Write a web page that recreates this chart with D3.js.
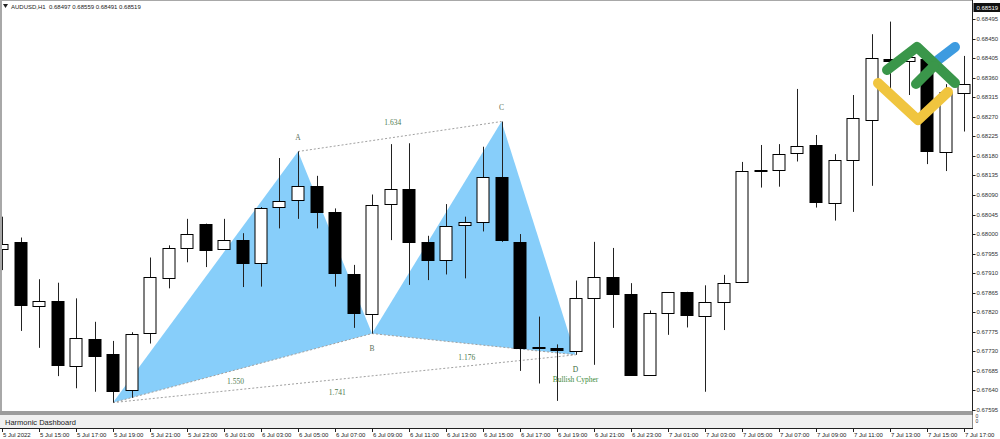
<!DOCTYPE html>
<html>
<head>
<meta charset="utf-8">
<script src="https://cdn.jsdelivr.net/npm/d3@7"></script>
<style>
  body { margin: 0; background: #fff; }
  svg { display: block; font-family: "Liberation Sans", Arial, sans-serif; }
</style>
</head>
<body>
<div id="chart"></div>
<script>
// AUDUSD H1 candles, 5 Jul 13:00 -> 7 Jul 17:00
var opens  = [0.67966,0.67981,0.67834,0.67845,0.67696,0.67758,0.67724,0.67641,0.67770,0.67900,
              0.67967,0.68024,0.67966,0.67986,0.67933,0.68061,0.68077,0.68110,0.68051,0.67908,
              0.67818,0.68068,0.68103,0.67982,0.67940,0.68019,0.68027,0.68131,0.67982,0.67738,
              0.67737,0.67730,0.67852,0.67900,0.67861,0.67676,0.67817,0.67866,0.67811,0.67843,
              0.67889,0.68145,0.68147,0.68187,0.68205,0.68073,0.68170,0.68262,0.68402,0.68398,
              0.68402,0.68191,0.68325];
var highs  = [0.68040,0.67992,0.67896,0.67888,0.67852,0.67798,0.67754,0.67774,0.67946,0.67974,
              0.68035,0.68024,0.68035,0.68002,0.68062,0.68175,0.68190,0.68134,0.68059,0.67929,
              0.68091,0.68207,0.68209,0.67996,0.68069,0.68040,0.68201,0.68259,0.68000,0.67810,
              0.67746,0.67893,0.67982,0.67968,0.67887,0.67824,0.67866,0.67867,0.67882,0.67906,
              0.68166,0.68205,0.68207,0.68334,0.68228,0.68184,0.68320,0.68460,0.68489,0.68420,
              0.68410,0.68345,0.68410];
var lows   = [0.67917,0.67777,0.67738,0.67673,0.67645,0.67637,0.67612,0.67623,0.67748,0.67875,
              0.67935,0.67924,0.67965,0.67878,0.67879,0.68013,0.68035,0.68013,0.67879,0.67784,
              0.67771,0.67986,0.67883,0.67894,0.67907,0.67898,0.68006,0.67982,0.67685,0.67656,
              0.67616,0.67722,0.67699,0.67784,0.67674,0.67674,0.67768,0.67785,0.67637,0.67779,
              0.67889,0.68107,0.68109,0.68167,0.68061,0.68031,0.68051,0.68111,0.68330,0.68320,
              0.68161,0.68145,0.68236];
var closes = [0.67977,0.67835,0.67846,0.67697,0.67761,0.67718,0.67639,0.67770,0.67900,0.67968,
              0.67999,0.67965,0.67986,0.67933,0.68059,0.68075,0.68110,0.68050,0.67910,0.67818,
              0.68068,0.68103,0.67982,0.67940,0.68019,0.68027,0.68131,0.67985,0.67738,0.67740,
              0.67733,0.67852,0.67900,0.67860,0.67674,0.67818,0.67866,0.67813,0.67843,0.67887,
              0.68145,0.68147,0.68184,0.68203,0.68073,0.68171,0.68267,0.68405,0.68397,0.68408,
              0.68191,0.68328,0.68345];

var timeLabels = ['5 Jul 2022','5 Jul 15:00','5 Jul 17:00','5 Jul 19:00','5 Jul 21:00','5 Jul 23:00',
                  '6 Jul 01:00','6 Jul 03:00','6 Jul 05:00','6 Jul 07:00','6 Jul 09:00','6 Jul 11:00',
                  '6 Jul 13:00','6 Jul 15:00','6 Jul 17:00','6 Jul 19:00','6 Jul 21:00','6 Jul 23:00',
                  '7 Jul 01:00','7 Jul 03:00','7 Jul 05:00','7 Jul 07:00','7 Jul 09:00','7 Jul 11:00',
                  '7 Jul 13:00','7 Jul 15:00','7 Jul 17:00'];
var priceTicks = [0.67595,0.67640,0.67685,0.67730,0.67775,0.67820,0.67865,0.67910,0.67955,0.68000,
                  0.68045,0.68090,0.68135,0.68180,0.68225,0.68270,0.68315,0.68360,0.68405,0.68450,0.68495];

// harmonic pattern: X A B C D
var patternNames = ['X','A','B','C','D'];
var patternBars  = [6, 16, 20, 27, 31];
var patternPrices = [0.67612, 0.68190, 0.67771, 0.68259, 0.67722];
var ratioLabels = ['1.550','1.634','1.176','1.741'];
var ratioPairs  = [[0,2],[1,3],[2,4],[0,4]];

var titleText = 'AUDUSD,H1  0.68497 0.68559 0.68491 0.68519';
var lastPrice = '0.68519';

var w = 1000, h = 439;
var axisX = 972.5, plotBottom = 411;

var svg = d3.select('#chart')
  .append('svg')
  .attr('width', w)
  .attr('height', h);

svg.append('rect')
  .attr('width', w)
  .attr('height', h)
  .attr('fill', 'white');

svg.append('clipPath').attr('id', 'clip')
  .append('rect').attr('x', 0).attr('y', 0).attr('width', axisX).attr('height', plotBottom);

var x = d3.scaleLinear().domain([0, opens.length - 1]).range([2, 964]);
var y = d3.scaleLinear().domain([0.67595, 0.68495]).range([410, 19]);

var g = svg.append('g').attr('clip-path', 'url(#clip)');

// pattern triangles
var pts = patternBars.map(function(b, i) { return [x(b), y(patternPrices[i])]; });
[[0,1,2],[2,3,4]].forEach(function(tri) {
  g.append('path')
    .attr('d', 'M' + tri.map(function(k) { return pts[k].join(','); }).join('L') + 'Z')
    .attr('fill', '#87cefa');
});

// dotted ratio lines
g.selectAll('line.ratio')
  .data(ratioPairs)
  .enter()
  .append('line')
  .attr('x1', function(d) { return pts[d[0]][0]; })
  .attr('y1', function(d) { return pts[d[0]][1]; })
  .attr('x2', function(d) { return pts[d[1]][0]; })
  .attr('y2', function(d) { return pts[d[1]][1]; })
  .attr('stroke', '#a0a0a0')
  .attr('stroke-width', 1)
  .attr('stroke-dasharray', '2,2');

// candles
var idx = d3.range(opens.length);
var bw = 13;

g.selectAll('line.wick')
  .data(idx)
  .enter()
  .append('line')
  .attr('x1', function(i) { return Math.round(x(i)) + 0.5; })
  .attr('x2', function(i) { return Math.round(x(i)) + 0.5; })
  .attr('y1', function(i) { return y(highs[i]); })
  .attr('y2', function(i) { return y(lows[i]); })
  .attr('stroke', '#222')
  .attr('stroke-width', 1);

g.selectAll('rect.body')
  .data(idx)
  .enter()
  .append('rect')
  .attr('x', function(i) { return Math.round(x(i)) - (bw - 1) / 2; })
  .attr('y', function(i) { return Math.round(y(Math.max(opens[i], closes[i]))) + 0.5; })
  .attr('width', bw - 1)
  .attr('height', function(i) { return Math.max(1, Math.round(Math.abs(y(opens[i]) - y(closes[i])))); })
  .attr('fill', function(i) { return closes[i] >= opens[i] ? 'white' : 'black'; })
  .attr('stroke', 'black')
  .attr('stroke-width', 1);

// pattern point labels
var serif = '"Liberation Serif", "Times New Roman", serif';
patternNames.forEach(function(n, i) {
  if (n == 'X') return;
  var up = (n == 'A' || n == 'C');
  g.append('text')
    .attr('x', pts[i][0])
    .attr('y', pts[i][1] + (up ? -12 : 17))
    .attr('text-anchor', 'middle')
    .style('font-family', serif)
    .style('font-size', '7.5px')
    .attr('fill', n == 'D' ? '#3d6b3d' : '#5b6f5b')
    .text(n);
});
g.append('text')
  .attr('x', pts[4][0])
  .attr('y', pts[4][1] + 27)
  .attr('text-anchor', 'middle')
  .style('font-family', serif)
  .style('font-size', '7.5px')
  .attr('fill', '#3a8a3a')
  .text('Bullish Cypher');

ratioLabels.forEach(function(t, k) {
  var a = pts[ratioPairs[k][0]], b = pts[ratioPairs[k][1]];
  var up = (k == 1);
  g.append('text')
    .attr('x', (a[0] + b[0]) / 2 - 7)
    .attr('y', (a[1] + b[1]) / 2 + (up ? -12 : 16))
    .attr('text-anchor', 'middle')
    .style('font-family', serif)
    .style('font-size', '7.5px')
    .attr('fill', '#4f7a4f')
    .text(t);
});

// logo (decoration)
var logo = svg.append('g')
  .attr('fill', 'none')
  .attr('stroke-linecap', 'round')
  .attr('stroke-linejoin', 'round')
  .attr('stroke-width', 10);
logo.append('path').attr('d', 'M938,60L955,47').attr('stroke', '#3d9be0');
logo.append('path').attr('d', 'M878,83L918,120L948,92').attr('stroke', '#f0c53f');
logo.append('path').attr('d', 'M887,70L917,47L955,83').attr('stroke', '#3a964a');
logo.append('path').attr('d', 'M916,84L934,66').attr('stroke', '#3a964a');

// title
svg.append('path').attr('d', 'M3,4L8,4L5.5,8Z').attr('fill', '#222');
svg.append('text')
  .attr('x', 11).attr('y', 8.5)
  .style('font-size', '6px')
  .attr('fill', '#222')
  .attr('xml:space', 'preserve')
  .text(titleText);

// borders
svg.append('rect').attr('x', 0).attr('y', 0).attr('width', 2).attr('height', plotBottom).attr('fill', '#a8a8a8');
svg.append('line').attr('x1', 0).attr('x2', axisX).attr('y1', 0.5).attr('y2', 0.5).attr('stroke', '#a8a8a8');

// price axis
svg.append('line')
  .attr('x1', axisX).attr('x2', axisX).attr('y1', 0).attr('y2', 429)
  .attr('stroke', '#222');
svg.selectAll('line.ptick')
  .data(priceTicks)
  .enter()
  .append('line')
  .attr('x1', axisX).attr('x2', axisX + 3)
  .attr('y1', function(d) { return Math.round(y(d)) + 0.5; })
  .attr('y2', function(d) { return Math.round(y(d)) + 0.5; })
  .attr('stroke', '#222');
svg.selectAll('text.plabel')
  .data(priceTicks)
  .enter()
  .append('text')
  .attr('x', axisX + 4)
  .attr('y', function(d) { return y(d) + 2; })
  .style('font-size', '6px')
  .attr('fill', '#333')
  .text(function(d) { return d.toFixed(5); });

// current price box
svg.append('rect')
  .attr('x', axisX + 1).attr('y', 3).attr('width', w - axisX - 1).attr('height', 9)
  .attr('fill', '#111');
svg.append('text')
  .attr('x', axisX + 4).attr('y', 9.5)
  .style('font-size', '6px')
  .attr('fill', 'white')
  .text(lastPrice);

// indicator sub-window
svg.append('rect').attr('x', 0).attr('y', plotBottom).attr('width', axisX).attr('height', 4).attr('fill', '#9c9c9c');
svg.append('rect').attr('x', 0).attr('y', plotBottom + 4).attr('width', axisX).attr('height', 13).attr('fill', '#f0f0f0');
svg.append('text')
  .attr('x', 5).attr('y', 424.5)
  .style('font-size', '7.5px')
  .attr('fill', '#222')
  .text('Harmonic Dashboard');
svg.append('text').attr('x', axisX + 3).attr('y', 418).style('font-size', '5px').attr('fill', '#333').text('0');
svg.append('text').attr('x', axisX + 3).attr('y', 422.5).style('font-size', '5px').attr('fill', '#333').text('0');

// time axis
svg.append('line')
  .attr('x1', 0).attr('x2', axisX).attr('y1', 428.5).attr('y2', 428.5)
  .attr('stroke', '#222');
var tickBars = timeLabels.map(function(t, k) { return k * 2; });
svg.selectAll('line.ttick')
  .data(tickBars)
  .enter()
  .append('line')
  .attr('x1', function(i) { return Math.round(x(i)) + 0.5; })
  .attr('x2', function(i) { return Math.round(x(i)) + 0.5; })
  .attr('y1', 428.5).attr('y2', 432)
  .attr('stroke', '#222');
svg.selectAll('text.tlabel')
  .data(tickBars)
  .enter()
  .append('text')
  .attr('x', function(i) { return x(i) + 1; })
  .attr('y', 437)
  .style('font-size', '6px')
  .attr('fill', '#222')
  .text(function(i, k) { return timeLabels[k]; });
</script>
</body>
</html>
